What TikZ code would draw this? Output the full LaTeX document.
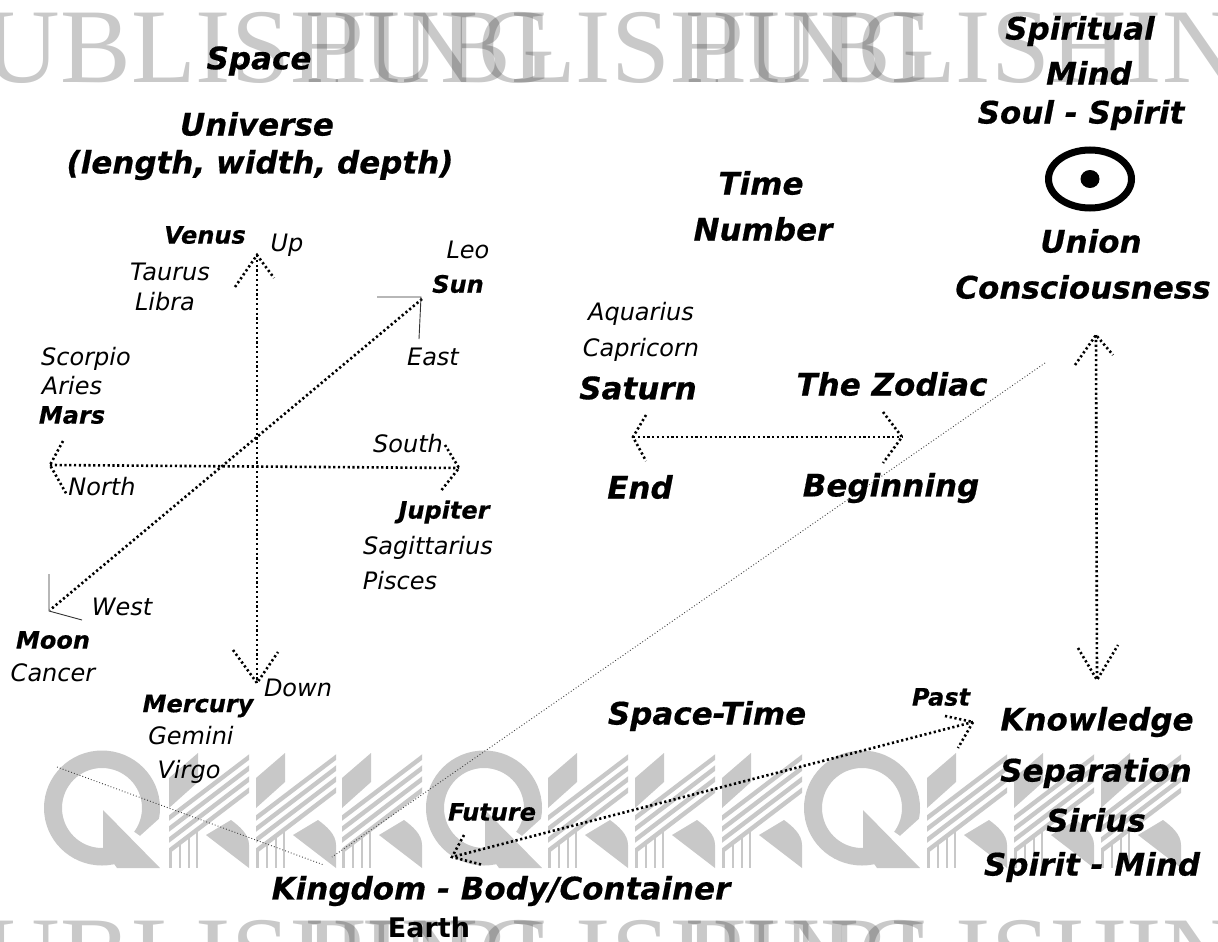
\documentclass[tikz,border=0pt]{standalone}
\usepackage{fontspec}
\setmainfont{DejaVu Sans}[BoldItalicFeatures={FakeBold=0.5}]
\newfontfamily\wmfont{Liberation Serif}
\definecolor{logogray}{HTML}{C8C8C8}
\tikzset{
  x=1pt,y=-1pt,
  lab/.style={inner sep=0pt,outer sep=0pt,anchor=center,align=center,text=black},
  big/.style={lab,font=\fontsize{31}{31}\selectfont\bfseries\itshape},
  mid/.style={lab,font=\fontsize{24}{24}\selectfont\bfseries\itshape},
  sma/.style={lab,font=\fontsize{24}{24}\selectfont\itshape},
  wm/.style={inner sep=0pt,outer sep=0pt,anchor=base west,text=black,text opacity=.21,font=\wmfont\fontsize{106}{106}\selectfont},
  dots/.style={line width=2.6pt,dash pattern=on 2.2pt off 2.6pt,black},
  fine/.style={line width=.9pt,dash pattern=on .9pt off 2.1pt,black!75},
  thin line/.style={line width=.9pt,black!80},
}
\newcommand\qshape[1]{%
\begin{scope}[xshift=#1pt]
  \fill[logogray,even odd rule] (57,808) ellipse [x radius=58,y radius=57.5] (57,808) ellipse [x radius=40,y radius=40];
  \fill[white] (58,810)--(112,870)--(125,870)--(125,815)--(115,818)--(95,836)--cycle;
  \fill[logogray] (58,810)--(115,868)--(72,868)--(58,848)--cycle;
\end{scope}}
\newcommand\kshape[1]{%
\begin{scope}[xshift=#1pt]
  \fill[logogray] (0,778)--(29,753)--(29,782)--(0,808)--cycle;
  \begin{scope}
    \clip (0,750) rectangle (80,870);
    \foreach \yy in {818,829,840,851}{\draw[logogray,line width=4.4pt] (-6,\yy+4.6)--(86,\yy-65.4);}
    \foreach \xx/\yy in {1.5/850,11/843,20/836,28/830}{\draw[logogray,line width=2.6pt] (\xx,\yy)--(\xx,868);}
  \end{scope}
  \fill[logogray] (37,835)--(62,820) .. controls (70,826) and (80,834) .. (80,845) -- (80,868)--cycle;
\end{scope}}
\begin{document}
\begin{tikzpicture}
\useasboundingbox (0,0) rectangle (1218,942);
\clip (0,0) rectangle (1218,942);
\fill[white] (0,0) rectangle (1218,942);
% watermark logos
\foreach \q in {45,427,805}{\qshape{\q}}
\foreach \k in {169,256,342,548,635,722,927,1014,1101}{\kshape{\k}}
% watermark words
\foreach \nm/\wx in {a/-75,b/305,c/685}{
  \node[wm] (top\nm) at (\wx,82) {PUBLISHING};
  \node[wm] (bot\nm) at (\wx,990) {PUBLISHING};
}
% anchor points
\coordinate (upT) at (257,255); \coordinate (upA) at (235,287); \coordinate (upB) at (274,278);
\coordinate (dnT) at (257,683); \coordinate (dnA) at (233,650); \coordinate (dnB) at (278,652);
\coordinate (wT) at (50,465); \coordinate (wA) at (63,441); \coordinate (wB) at (67,495);
\coordinate (eT) at (459,468); \coordinate (eA) at (445,445); \coordinate (eB) at (440,492);
\coordinate (sunT) at (422,299); \coordinate (sunJ) at (421,297); \coordinate (sunA) at (377,297); \coordinate (sunB) at (419,339);
\coordinate (moonT) at (50,610); \coordinate (moonJ) at (49,611); \coordinate (moonA) at (49,574); \coordinate (moonB) at (82,620);
\coordinate (zlT) at (633,437); \coordinate (zlA) at (646,415); \coordinate (zlB) at (646,461);
\coordinate (zrT) at (902,437); \coordinate (zrA) at (883,412); \coordinate (zrB) at (883,463);
\coordinate (rtT) at (1096,335); \coordinate (rtA) at (1075,365); \coordinate (rtB) at (1113,355);
\coordinate (rbT) at (1097,680); \coordinate (rbA) at (1078,648); \coordinate (rbB) at (1118,645);
\coordinate (paT) at (973,722); \coordinate (paA) at (945,716); \coordinate (paB) at (958,748);
\coordinate (fuT) at (452,857); \coordinate (fuA) at (464,835); \coordinate (fuB) at (483,865);
\coordinate (f1) at (1045,363); \coordinate (f2) at (332,857); \coordinate (f3) at (57,767); \coordinate (f4) at (324,865);
% connectors
\draw[fine] (f1)--(f2);
\draw[fine] (f3)--(f4);
\draw[dots] (upT)--(dnT);
\draw[dots] (upA)--(upT)--(upB);
\draw[dots] (dnA)--(dnT)--(dnB);
\draw[dots] (wT)--(eT);
\draw[dots] (wA)--(wT)--(wB);
\draw[dots] (eA)--(eT)--(eB);
\draw[dots] (sunT)--(moonT);
\draw[thin line] (sunA)--(sunJ)--(sunB);
\draw[thin line] (moonA)--(moonJ)--(moonB);
\draw[dots] (zlT)--(zrT);
\draw[dots] (zlA)--(zlT)--(zlB);
\draw[dots] (zrA)--(zrT)--(zrB);
\draw[dots] (rtT)--(rbT);
\draw[dots] (rtA)--(rtT)--(rtB);
\draw[dots] (rbA)--(rbT)--(rbB);
\draw[dots] (paT)--(fuT);
\draw[dots] (paA)--(paT)--(paB);
\draw[dots] (fuA)--(fuT)--(fuB);
% sun symbol
\draw[black,line width=7pt] (1090,179) ellipse [x radius=41.5,y radius=29];
\fill[black] (1090,179) ellipse [x radius=9.5,y radius=9];
% labels
\node[big] (space) at (259,61) {Space};
\node[big] (universe) at (257,124) {Universe};
\node[big] (lwd) at (260,165) {(length, width, depth)};
\node[mid] (venus) at (205,235) {Venus};
\node[sma] (up) at (287,245) {Up};
\node[sma] (taurus) at (170,272) {Taurus};
\node[sma] (libra) at (165,302) {Libra};
\node[sma] (leo) at (468,250) {Leo};
\node[mid] (sun) at (458,284) {Sun};
\node[sma] (east) at (433,357) {East};
\node[sma] (scorpio) at (86,359) {Scorpio};
\node[sma] (aries) at (72,386) {Aries};
\node[mid] (mars) at (72,415) {Mars};
\node[sma] (south) at (408,444) {South};
\node[sma] (north) at (102,487) {North};
\node[mid] (jupiter) at (444,512) {Jupiter};
\node[sma] (sag) at (428,548) {Sagittarius};
\node[sma] (pisces) at (400,581) {Pisces};
\node[sma] (west) at (122,607) {West};
\node[mid] (moon) at (53,640) {Moon};
\node[sma] (cancer) at (53,673) {Cancer};
\node[sma] (down) at (298,688) {Down};
\node[mid] (mercury) at (198,706) {Mercury};
\node[sma] (gemini) at (191,736) {Gemini};
\node[sma] (virgo) at (189,772) {Virgo};
\node[big] (time) at (761,183) {Time};
\node[big] (number) at (763,229) {Number};
\node[sma] (aquarius) at (641,314) {Aquarius};
\node[sma] (capricorn) at (641,350) {Capricorn};
\node[big] (saturn) at (638,388) {Saturn};
\node[big] (zodiac) at (892,384) {The Zodiac};
\node[big] (end) at (640,487) {End};
\node[big] (beginning) at (891,488) {Beginning};
\node[big] (spiritual) at (1080,31) {Spiritual};
\node[big] (mind) at (1089,73) {Mind};
\node[big] (soul) at (1081,115) {Soul - Spirit};
\node[big] (union) at (1091,241) {Union};
\node[big] (conscious) at (1083,287) {Consciousness};
\node[big] (spacetime) at (707,716) {Space-Time};
\node[mid] (past) at (941,697) {Past};
\node[big] (knowledge) at (1097,722) {Knowledge};
\node[big] (separation) at (1096,773) {Separation};
\node[big] (sirius) at (1096,820) {Sirius};
\node[big] (spiritmind) at (1092,867) {Spirit - Mind};
\node[mid] (future) at (492,812) {Future};
\node[big] (kingdom) at (501,891) {Kingdom - Body/Container};
\node[lab,font=\fontsize{27}{27}\selectfont\bfseries] (earth) at (429,927) {Earth};
\end{tikzpicture}
\end{document}
